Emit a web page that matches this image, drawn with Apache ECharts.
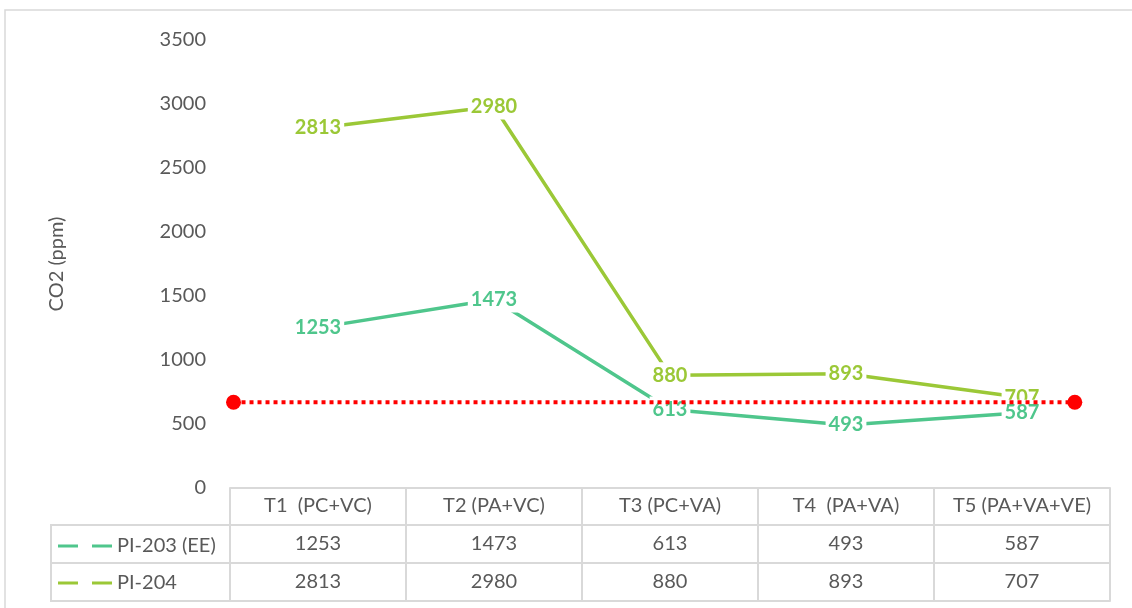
<!DOCTYPE html>
<html>
<head>
<meta charset="utf-8">
<script src="https://cdn.jsdelivr.net/npm/echarts@6/dist/echarts.min.js"></script>
<style>
  html, body { margin: 0; padding: 0; background: #fff; }
  #chart { width: 1132px; height: 608px; }
</style>
</head>
<body>
<div id="chart"></div>
<script>
// datos
var categorias= ['T1  (PC+VC)', 'T2 (PA+VC)', 'T3 (PC+VA)', 'T4  (PA+VA)', 'T5 (PA+VA+VE)'];
var pi203= [1253, 1473, 613, 493, 587];
var pi204= [2813, 2980, 880, 893, 707];
var limite= [[0.02, 670], [4.8, 670]];
var ticksY= {min: 0, max: 3500, interval: 500};

var gris= '#595959';
var borde= '#d9d9d9';
var fuente= 'Lato';
var color203= '#4fc68c';
var color204= '#9bc837';
var icono= 'path://M0,0h20v3h-20zM34,0h20v3h-20z';

function etiqueta(color) {
  return {
    show: true, position: 'inside', color: color, fontFamily: fuente,
    fontSize: 20, fontWeight: 'bold', backgroundColor: '#fff', padding: [3, 3]
  };
}

function fila(datos, offset) {
  return {
    type: 'category', gridIndex: 0, position: 'bottom', offset: offset,
    data: datos.map(String), boundaryGap: true,
    axisLine: {show: true, lineStyle: {color: borde, width: 2}},
    axisTick: {show: false},
    axisLabel: {color: gris, fontFamily: fuente, fontSize: 20, margin: 9, interval: 0}
  };
}

function leyenda(nombre, color, top) {
  return {
    data: [{name: nombre, itemStyle: {color: color, opacity: 1}}], left: 58, top: top, padding: 0,
    icon: icono, itemWidth: 54, itemHeight: 3.5, itemGap: 4,
    textStyle: {color: gris, fontFamily: fuente, fontSize: 20}
  };
}

var chart= echarts.init(document.getElementById('chart'));
chart.setOption({
  animation: false,
  grid: {left: 230, right: 22, top: 40, bottom: 120},
  legend: [leyenda('PI-203 (EE)', color203, 536), leyenda('PI-204', color204, 573)],
  xAxis: [
    {
      type: 'category', data: categorias, boundaryGap: true,
      axisLine: {show: true, lineStyle: {color: borde, width: 2}},
      axisTick: {show: true, interval: 0, length: 113, lineStyle: {color: borde, width: 2}},
      axisLabel: {color: gris, fontFamily: fuente, fontSize: 20, margin: 8, interval: 0}
    },
    fila(pi203, 37),
    fila(pi204, 75),
    {type: 'category', gridIndex: 0, position: 'bottom', offset: 113, data: categorias,
     axisLine: {show: true, lineStyle: {color: borde, width: 2}}, axisTick: {show: false}, axisLabel: {show: false}},
    {type: 'value', min: 0, max: 5, show: false}
  ],
  yAxis: {
    type: 'value', min: ticksY.min, max: ticksY.max, interval: ticksY.interval,
    name: 'CO2 (ppm)', nameLocation: 'middle', nameGap: 163,
    nameTextStyle: {color: gris, fontFamily: fuente, fontSize: 20},
    axisLine: {show: false}, axisTick: {show: false}, splitLine: {show: false},
    axisLabel: {color: gris, fontFamily: fuente, fontSize: 20, margin: 24, formatter: function(v) { return String(v); }}
  },
  series: [
    {
      name: 'PI-203 (EE)', type: 'line', xAxisIndex: 0, data: pi203, z: 3,
      symbol: 'circle', symbolSize: 0, itemStyle: {color: color203},
      lineStyle: {color: color203, width: 3.5}, label: etiqueta(color203)
    },
    {
      name: 'PI-204', type: 'line', xAxisIndex: 0, data: pi204, z: 2,
      symbol: 'circle', symbolSize: 0, itemStyle: {color: color204},
      lineStyle: {color: color204, width: 3.5}, label: etiqueta(color204)
    },
    {
      name: 'Limite', type: 'line', xAxisIndex: 4, data: limite, z: 5,
      symbol: 'circle', symbolSize: 15, itemStyle: {color: '#ff0000'},
      lineStyle: {color: '#ff0000', width: 4, type: [4, 4]}
    }
  ],
  graphic: [
    {type: 'rect', shape: {x: 5, y: 10, width: 1300, height: 800}, style: {fill: 'none', stroke: borde, lineWidth: 1.5}, z: -1},
    {type: 'line', shape: {x1: 51, y1: 525, x2: 230, y2: 525}, style: {stroke: borde, lineWidth: 2}},
    {type: 'line', shape: {x1: 51, y1: 563, x2: 230, y2: 563}, style: {stroke: borde, lineWidth: 2}},
    {type: 'line', shape: {x1: 51, y1: 601, x2: 230, y2: 601}, style: {stroke: borde, lineWidth: 2}},
    {type: 'line', shape: {x1: 51, y1: 524, x2: 51, y2: 602}, style: {stroke: borde, lineWidth: 2}}
  ]
});
</script>
</body>
</html>
